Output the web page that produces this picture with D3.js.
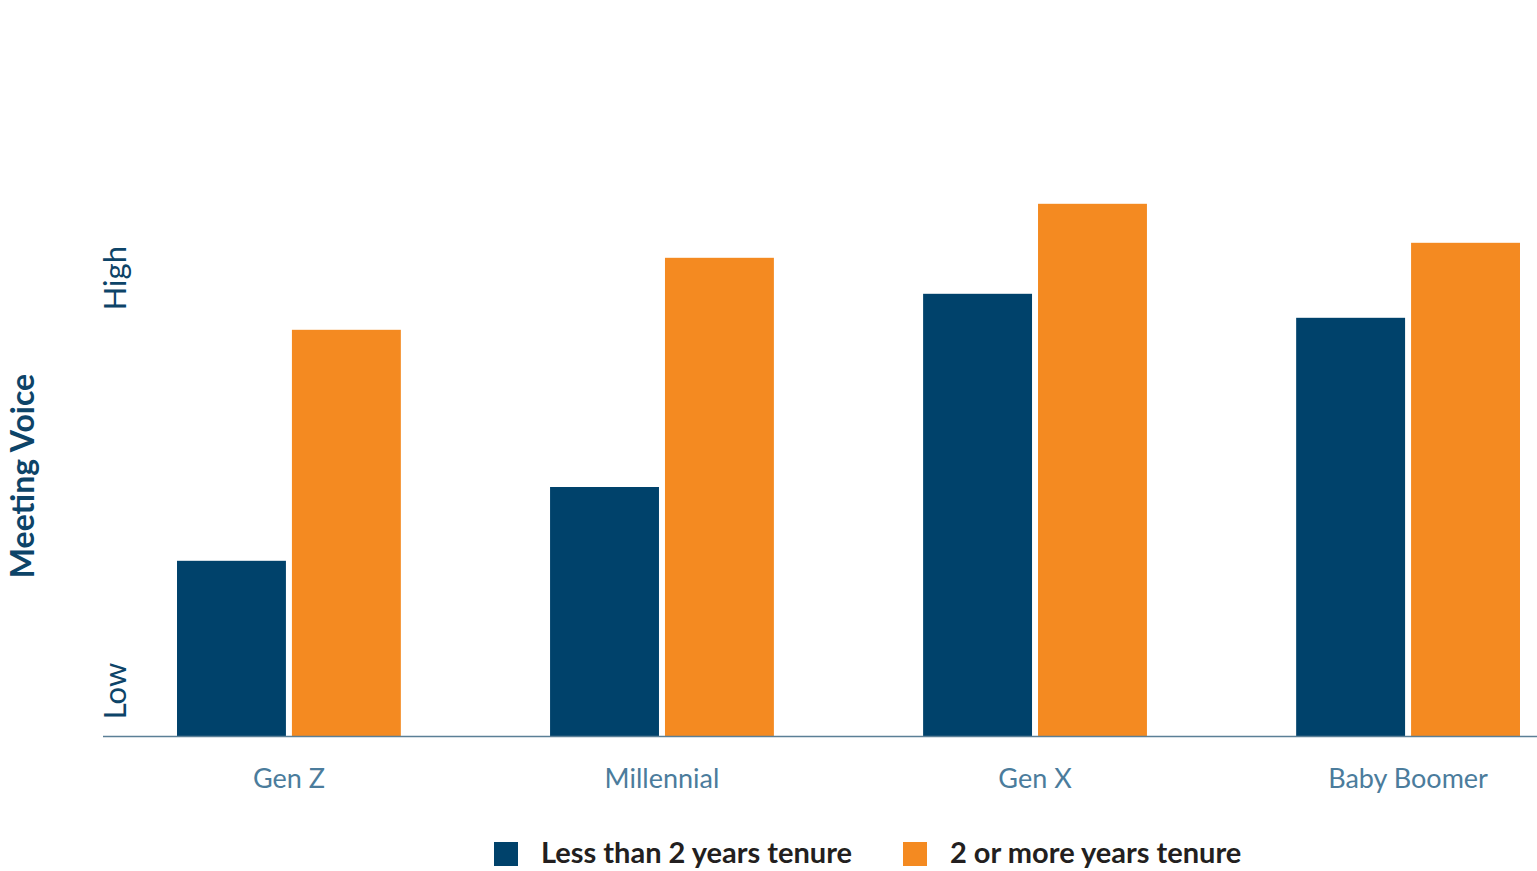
<!DOCTYPE html>
<html>
<head>
<meta charset="utf-8">
<script src="https://cdn.jsdelivr.net/npm/d3@7"></script>
<style>
  body { margin: 0; background: #fff; }
  svg { display: block; font-family: Lato, "Open Sans", sans-serif; }
</style>
</head>
<body>
<div id="chart"></div>
<script>
// categories and series
var categories = ["Gen Z", "Millennial", "Gen X", "Baby Boomer"];
var seriesNames = ["Less than 2 years tenure", "2 or more years tenure"];
var shortTenure = [29.2, 41.5, 73.7, 69.7];
var longTenure = [67.7, 79.7, 88.7, 82.2];
// qualitative y labels and where they sit on the scale
var yTickLabels = ["Low", "High"];
var yTickValues = [7.5, 76.3];

var colors = ["#00426b", "#f48a21"];

var width = 1537, height = 871;
var baseY = 736;

var svg = d3.select("#chart")
  .append("svg")
  .attr("width", width)
  .attr("height", height);

var x = d3.scaleBand()
  .domain(categories)
  .range([102.4, 1594.6])
  .paddingInner(0.4)
  .paddingOuter(0.2);

var xInner = d3.scaleBand()
  .domain(seriesNames)
  .range([0, x.bandwidth()])
  .paddingInner(6 / 115);

var y = d3.scaleLinear()
  .domain([0, 100])
  .range([baseY, 136]);

var rows = categories.map(function(c, i){
  return {cat: c, values: [shortTenure[i], longTenure[i]]};
});

// bars
var groups = svg.selectAll(".grp")
  .data(rows)
  .enter()
  .append("g")
  .attr("class", "grp")
  .attr("transform", function(d){ return "translate(" + x(d.cat) + ",0)"; });

groups.selectAll("rect")
  .data(function(d){ return d.values.map(function(v, j){ return {name: seriesNames[j], v: v, j: j}; }); })
  .enter()
  .append("rect")
  .attr("x", function(d){ return xInner(d.name); })
  .attr("width", xInner.bandwidth())
  .attr("y", function(d){ return y(d.v); })
  .attr("height", function(d){ return baseY - y(d.v); })
  .attr("fill", function(d){ return colors[d.j]; });

// baseline
svg.append("line")
  .attr("x1", 103).attr("x2", width)
  .attr("y1", baseY + 0.5).attr("y2", baseY + 0.5)
  .attr("stroke", "#5b7f96")
  .attr("stroke-width", 1.5);

// category labels
svg.selectAll(".cat")
  .data(categories)
  .enter()
  .append("text")
  .attr("class", "cat")
  .attr("x", function(d){ return x(d) + x.bandwidth() / 2; })
  .attr("y", 788)
  .attr("text-anchor", "middle")
  .attr("font-size", 27)
  .attr("fill", "#4b7c9c")
  .text(function(d){ return d; });

// Low / High
svg.selectAll(".ytick")
  .data(yTickLabels)
  .enter()
  .append("text")
  .attr("class", "ytick")
  .attr("transform", function(d, i){ return "translate(126," + y(yTickValues[i]) + ") rotate(-90)"; })
  .attr("text-anchor", "middle")
  .attr("font-size", 31)
  .attr("fill", "#0d4468")
  .text(function(d){ return d; });

// axis title
svg.append("text")
  .attr("transform", "translate(34,476) rotate(-90)")
  .attr("text-anchor", "middle")
  .attr("font-size", 32)
  .attr("font-weight", "bold")
  .attr("fill", "#0d4468")
  .text("Meeting Voice");

// legend
var legendX = [494, 903];
var legend = svg.selectAll(".leg")
  .data(seriesNames)
  .enter()
  .append("g")
  .attr("class", "leg")
  .attr("transform", function(d, i){ return "translate(" + legendX[i] + ",842)"; });

legend.append("rect")
  .attr("width", 24).attr("height", 24)
  .attr("fill", function(d, i){ return colors[i]; });

legend.append("text")
  .attr("x", 47)
  .attr("y", 21)
  .attr("font-size", 29)
  .attr("font-weight", "bold")
  .attr("fill", "#231f20")
  .text(function(d){ return d; });
</script>
</body>
</html>
